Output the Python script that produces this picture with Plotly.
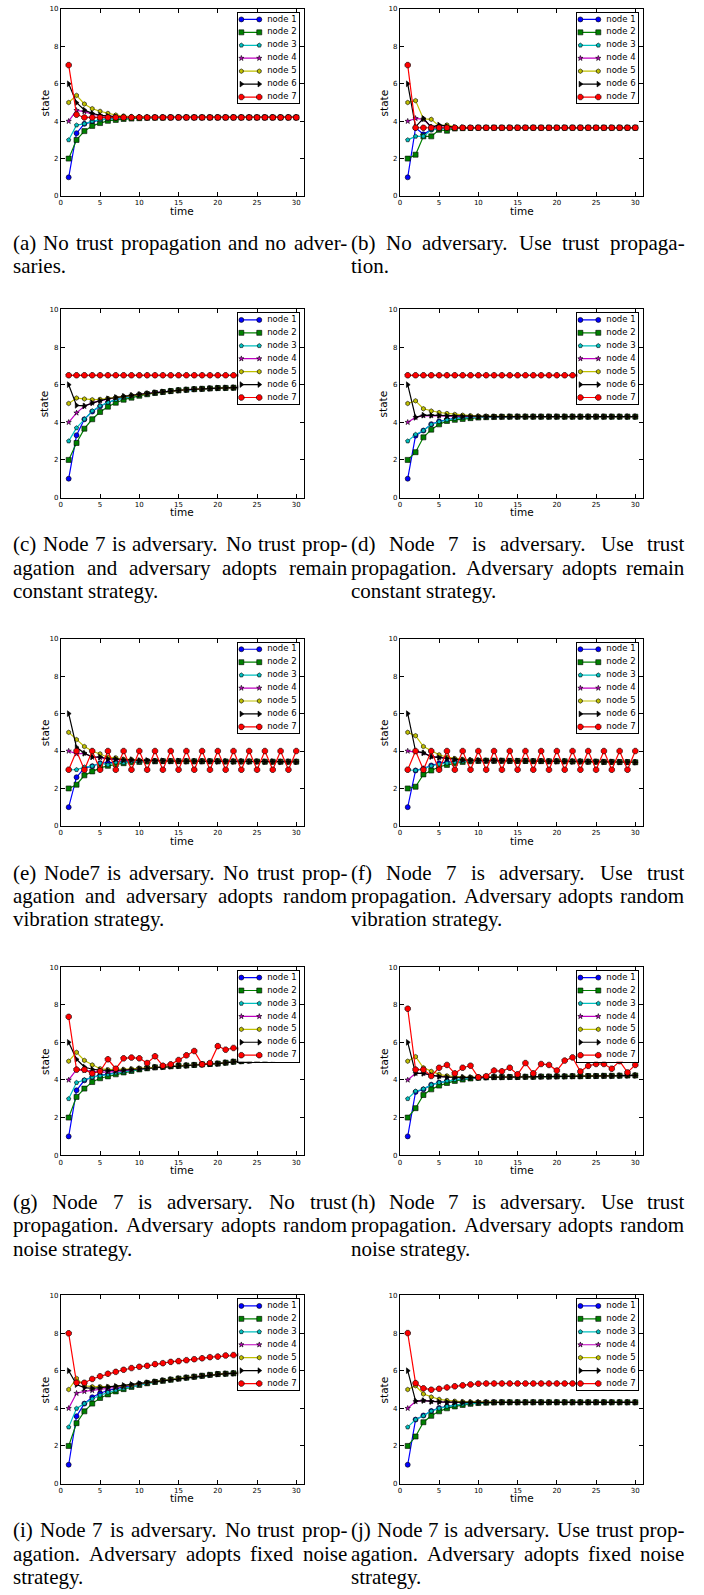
import plotly.graph_objects as go

# ---------------- data ----------------
time = list(range(1, 31))
node_names = ["node 1", "node 2", "node 3", "node 4", "node 5", "node 6", "node 7"]
x_tick_vals = [0, 5, 10, 15, 20, 25, 30]
y_tick_vals = [0, 2, 4, 6, 8, 10]


def series(head, tail):
    return head + tail[len(head):]


# (a) no trust propagation, no adversary
a_tail = [4.20, 4.20, 4.20, 4.20, 4.20, 4.20, 4.20, 4.20, 4.20, 4.20,
          4.20, 4.20, 4.20, 4.20, 4.20, 4.20, 4.20, 4.20, 4.20, 4.20,
          4.20, 4.20, 4.20, 4.20, 4.20, 4.20, 4.20, 4.20, 4.20, 4.20]
a1 = series([1.00, 3.36, 3.86, 3.98, 4.07, 4.12, 4.15, 4.17, 4.18, 4.19, 4.19], a_tail)
a2 = series([2.00, 3.00, 3.47, 3.75, 3.90, 4.02, 4.07, 4.12, 4.14, 4.16, 4.18, 4.19, 4.19], a_tail)
a3 = series([3.00, 3.79, 3.86, 4.00, 4.07, 4.12, 4.15, 4.17, 4.18, 4.19, 4.19], a_tail)
a4 = series([4.00, 4.58, 4.51, 4.37, 4.30, 4.26, 4.24, 4.22, 4.21, 4.21], a_tail)
a5 = series([5.00, 5.38, 4.92, 4.67, 4.53, 4.42, 4.33, 4.28, 4.25, 4.23, 4.22, 4.21], a_tail)
a6 = series([6.00, 4.99, 4.60, 4.42, 4.32, 4.27, 4.24, 4.22, 4.21, 4.21], a_tail)
a7 = series([7.00, 4.35], a_tail)

# (b) no adversary, trust propagation
b_tail = [3.65, 3.65, 3.65, 3.65, 3.65, 3.65, 3.65, 3.65, 3.65, 3.65,
          3.65, 3.65, 3.65, 3.65, 3.65, 3.65, 3.65, 3.65, 3.65, 3.65,
          3.65, 3.65, 3.65, 3.65, 3.65, 3.65, 3.65, 3.65, 3.65, 3.65]
b1 = series([1.00, 3.65, 3.30, 3.55, 3.60, 3.62, 3.64], b_tail)
b2 = series([2.00, 2.21, 3.19, 3.19, 3.54, 3.49, 3.61, 3.63, 3.64], b_tail)
b3 = series([3.00, 3.19, 3.19, 3.54, 3.58, 3.62, 3.64], b_tail)
b4 = series([4.00, 4.15, 4.10, 3.70, 3.70, 3.66], b_tail)
b5 = series([5.00, 5.10, 4.12, 4.10, 3.75, 3.80, 3.68, 3.66], b_tail)
b6 = series([6.00, 3.70, 4.15, 3.68, 3.80, 3.72, 3.67, 3.66], b_tail)
b7 = series([7.00, 3.65], b_tail)

# (c) adversary constant, no trust propagation
c_tail = [1.00, 3.31, 4.16, 4.57, 4.85, 5.05, 5.20, 5.31, 5.39, 5.46,
          5.52, 5.57, 5.62, 5.66, 5.70, 5.73, 5.76, 5.78, 5.80, 5.82,
          5.83, 5.84, 5.86, 5.87, 5.88, 5.89, 5.90, 5.91, 5.92, 5.93]
c1 = series([1.00], c_tail)
c2 = series([2.00, 2.90, 3.66, 4.16, 4.55, 4.83, 5.04, 5.20, 5.31, 5.41, 5.49, 5.56, 5.61], c_tail)
c3 = series([3.00, 3.70, 4.16, 4.60, 4.87, 5.06, 5.20, 5.31, 5.39], c_tail)
c4 = series([4.00, 4.50, 4.85, 5.03, 5.15, 5.24, 5.31, 5.37, 5.43, 5.48, 5.53, 5.58], c_tail)
c5 = series([5.00, 5.29, 5.24, 5.20, 5.22, 5.27, 5.32, 5.37, 5.43, 5.48, 5.53, 5.58], c_tail)
c6 = series([6.00, 4.90, 4.87, 5.03, 5.15, 5.25, 5.32, 5.38, 5.43, 5.48, 5.53, 5.58], c_tail)
c7 = [6.50, 6.50, 6.50, 6.50, 6.50, 6.50, 6.50, 6.50, 6.50, 6.50,
      6.50, 6.50, 6.50, 6.50, 6.50, 6.50, 6.50, 6.50, 6.50, 6.50,
      6.50, 6.50, 6.50, 6.50, 6.50, 6.50, 6.50, 6.50, 6.50, 6.50]

# (d) adversary constant, trust propagation
d_tail = [4.30, 4.30, 4.30, 4.30, 4.30, 4.30, 4.30, 4.30, 4.30, 4.30,
          4.30, 4.30, 4.30, 4.30, 4.30, 4.30, 4.30, 4.30, 4.30, 4.30,
          4.30, 4.30, 4.30, 4.30, 4.30, 4.30, 4.30, 4.30, 4.30, 4.30]
d1 = series([1.00, 3.29, 3.56, 3.90, 4.05, 4.15, 4.21, 4.25, 4.27, 4.28, 4.29], d_tail)
d2 = series([2.00, 2.41, 3.20, 3.61, 3.89, 4.07, 4.13, 4.18, 4.22, 4.25, 4.27, 4.28, 4.29], d_tail)
d3 = series([3.00, 3.35, 3.56, 3.88, 4.03, 4.13, 4.20, 4.24, 4.27, 4.28, 4.29], d_tail)
d4 = series([4.00, 4.26, 4.35, 4.35, 4.35, 4.33, 4.32, 4.31], d_tail)
d5 = series([5.00, 5.14, 4.72, 4.60, 4.52, 4.47, 4.42, 4.38, 4.35, 4.33, 4.32, 4.31], d_tail)
d6 = series([6.00, 4.26, 4.38, 4.37, 4.36, 4.34, 4.32, 4.31], d_tail)
d7 = [6.50, 6.50, 6.50, 6.50, 6.50, 6.50, 6.50, 6.50, 6.50, 6.50,
      6.50, 6.50, 6.50, 6.50, 6.50, 6.50, 6.50, 6.50, 6.50, 6.50,
      6.50, 6.50, 6.50, 6.50, 6.50, 6.50, 6.50, 6.50, 6.50, 6.50]

# (e) random vibration, no trust propagation
e_tail = [3.46, 3.46, 3.46, 3.46, 3.46, 3.46, 3.46, 3.46, 3.46, 3.46,
          3.46, 3.46, 3.46, 3.46, 3.46, 3.45, 3.45, 3.45, 3.45, 3.45,
          3.44, 3.44, 3.44, 3.44, 3.44, 3.43, 3.43, 3.43, 3.43, 3.43]
e1 = series([1.00, 2.60, 3.09, 3.19, 3.35, 3.36, 3.40, 3.42, 3.44, 3.45], e_tail)
e2 = series([2.00, 2.20, 2.70, 2.91, 3.10, 3.21, 3.30, 3.35, 3.40, 3.42, 3.44, 3.45], e_tail)
e3 = series([3.00, 3.00, 3.14, 3.19, 3.35, 3.26, 3.40, 3.37, 3.45, 3.42, 3.47, 3.44, 3.47, 3.45], e_tail)
e4 = series([4.00, 3.85, 3.88, 3.67, 3.65, 3.56, 3.55, 3.50, 3.50, 3.48, 3.47, 3.47], e_tail)
e5 = series([5.00, 4.61, 4.24, 4.00, 3.85, 3.67, 3.64, 3.56, 3.55, 3.50, 3.49, 3.47, 3.47], e_tail)
e6 = [6.00, 4.20, 3.88, 3.69, 3.68, 3.58, 3.58, 3.53, 3.54, 3.49,
      3.50, 3.47, 3.48, 3.46, 3.47, 3.45, 3.46, 3.45, 3.46, 3.44,
      3.45, 3.44, 3.45, 3.43, 3.44, 3.43, 3.44, 3.42, 3.43, 3.42]
e7 = [3.0, 4.0, 3.0, 4.0, 3.0, 4.0, 3.0, 4.0, 3.0, 4.0,
      3.0, 4.0, 3.0, 4.0, 3.0, 4.0, 3.0, 4.0, 3.0, 4.0,
      3.0, 4.0, 3.0, 4.0, 3.0, 4.0, 3.0, 4.0, 3.0, 4.0]

# (f) random vibration, trust propagation
f_tail = [1.00, 2.96, 3.07, 3.23, 3.35, 3.40, 3.44, 3.46, 3.47, 3.48,
          3.48, 3.48, 3.48, 3.47, 3.47, 3.47, 3.46, 3.46, 3.45, 3.45,
          3.45, 3.44, 3.44, 3.43, 3.43, 3.42, 3.42, 3.41, 3.41, 3.40]
f1 = series([1.00], f_tail)
f2 = series([2.00, 2.09, 2.75, 2.96, 3.16, 3.26, 3.35, 3.42, 3.45, 3.47], f_tail)
f3 = series([3.00, 2.96, 3.05, 3.20, 3.30, 3.35, 3.41, 3.45, 3.47], f_tail)
f4 = series([4.00, 3.95, 3.90, 3.70, 3.66, 3.60, 3.55, 3.52, 3.50, 3.49], f_tail)
f5 = series([5.00, 4.82, 4.24, 4.00, 3.80, 3.67, 3.60, 3.55, 3.52, 3.50, 3.49], f_tail)
f6 = series([6.00, 4.00, 3.90, 3.70, 3.65, 3.60, 3.56, 3.53, 3.51, 3.50, 3.49], f_tail)
f7 = [3.0, 4.0, 3.0, 4.0, 3.0, 4.0, 3.0, 4.0, 3.0, 4.0,
      3.0, 4.0, 3.0, 4.0, 3.0, 4.0, 3.0, 4.0, 3.0, 4.0,
      3.0, 4.0, 3.0, 4.0, 3.0, 4.0, 3.0, 4.0, 3.0, 4.0]

# (g) random noise, no trust propagation
g_tail = [1.00, 3.45, 3.98, 4.16, 4.25, 4.32, 4.38, 4.44, 4.51, 4.58,
          4.63, 4.67, 4.70, 4.73, 4.75, 4.77, 4.80, 4.83, 4.85, 4.87,
          4.92, 4.97, 5.00, 5.03, 5.08, 5.12, 5.15, 5.20, 5.23, 5.27]
g1 = series([1.00], g_tail)
g2 = series([2.00, 3.10, 3.54, 3.89, 4.09, 4.19, 4.30, 4.40, 4.48, 4.56, 4.62], g_tail)
g3 = series([3.00, 3.86, 4.00, 4.15, 4.22, 4.30, 4.37, 4.43, 4.50, 4.57], g_tail)
g4 = series([4.00, 4.55, 4.51, 4.45, 4.42, 4.42, 4.45, 4.50, 4.55, 4.60, 4.64], g_tail)
g5 = series([5.00, 5.47, 5.04, 4.80, 4.60, 4.55, 4.55, 4.56, 4.59, 4.62, 4.65, 4.68], g_tail)
g6 = series([6.00, 5.10, 4.69, 4.57, 4.52, 4.50, 4.51, 4.53, 4.56, 4.60, 4.64, 4.68], g_tail)
g7 = [7.36, 4.55, 4.55, 4.35, 4.46, 5.10, 4.60, 5.15, 5.19, 5.15,
      4.90, 5.26, 4.76, 4.83, 5.06, 5.31, 5.54, 4.83, 4.90, 5.80,
      5.61, 5.70, 5.65, 5.40, 5.90, 5.60, 5.50, 6.00, 5.70, 5.80]

# (h) random noise, trust propagation
h_tail = [1.00, 3.36, 3.50, 3.75, 3.86, 3.95, 4.01, 4.06, 4.10, 4.13,
          4.14, 4.15, 4.15, 4.16, 4.16, 4.17, 4.17, 4.18, 4.18, 4.19,
          4.19, 4.20, 4.20, 4.21, 4.21, 4.22, 4.22, 4.23, 4.24, 4.24]
h1 = series([1.00], h_tail)
h2 = series([2.00, 2.50, 3.20, 3.50, 3.70, 3.84, 3.95, 4.02, 4.08, 4.12], h_tail)
h3 = series([3.00, 3.40, 3.52, 3.74, 3.86, 3.95, 4.01, 4.06, 4.10], h_tail)
h4 = series([4.00, 4.35, 4.35, 4.25, 4.20, 4.17, 4.15, 4.14, 4.13, 4.13], h_tail)
h5 = series([5.00, 5.24, 4.65, 4.46, 4.30, 4.22, 4.18, 4.15, 4.14, 4.13], h_tail)
h6 = series([6.00, 4.35, 4.35, 4.25, 4.18, 4.15, 4.14, 4.14, 4.13, 4.13], h_tail)
h7 = [7.79, 4.55, 4.55, 4.21, 4.65, 4.80, 4.35, 4.65, 4.76, 4.14,
      4.20, 4.50, 4.46, 4.65, 4.30, 4.90, 4.35, 4.85, 4.80, 4.50,
      5.03, 5.20, 4.45, 4.75, 4.85, 4.85, 4.60, 5.00, 4.40, 4.80]

# (i) fixed noise, no trust propagation
i_tail = [1.00, 3.58, 4.25, 4.59, 4.80, 4.95, 5.05, 5.14, 5.22, 5.30,
          5.36, 5.42, 5.48, 5.53, 5.58, 5.63, 5.68, 5.73, 5.78, 5.82,
          5.84, 5.86, 5.88, 5.90, 5.92, 5.94, 5.96, 5.98, 6.00, 6.02]
i1 = series([1.00], i_tail)
i2 = series([2.00, 3.21, 3.84, 4.25, 4.55, 4.74, 4.90, 5.02, 5.14, 5.24, 5.33, 5.40, 5.46, 5.52], i_tail)
i3 = series([3.00, 3.99, 4.25, 4.50, 4.70, 4.85, 4.96, 5.06, 5.15, 5.25, 5.34, 5.41], i_tail)
i4 = series([4.00, 4.80, 4.90, 4.95, 5.00, 5.05, 5.10, 5.15, 5.21, 5.28, 5.35, 5.41], i_tail)
i5 = series([5.00, 5.59, 5.20, 5.15, 5.15, 5.15, 5.17, 5.20, 5.24, 5.30], i_tail)
i6 = series([6.00, 5.26, 5.10, 5.06, 5.10, 5.13, 5.17, 5.22, 5.27, 5.32, 5.37, 5.42], i_tail)
i7 = [7.99, 5.36, 5.36, 5.56, 5.70, 5.84, 5.94, 6.05, 6.14, 6.21,
      6.26, 6.35, 6.40, 6.47, 6.51, 6.56, 6.61, 6.66, 6.72, 6.75,
      6.81, 6.83, 6.86, 6.89, 6.92, 6.94, 6.96, 6.98, 7.00, 7.02]

# (j) fixed noise, trust propagation
j_tail = [4.32, 4.32, 4.32, 4.32, 4.32, 4.32, 4.32, 4.32, 4.32, 4.32,
          4.32, 4.32, 4.32, 4.32, 4.32, 4.32, 4.32, 4.32, 4.32, 4.32,
          4.32, 4.32, 4.32, 4.32, 4.32, 4.32, 4.32, 4.32, 4.32, 4.32]
j1 = series([1.00, 3.40, 3.62, 3.86, 4.02, 4.10, 4.17, 4.22, 4.26, 4.29, 4.31], j_tail)
j2 = series([2.00, 2.50, 3.26, 3.60, 3.84, 4.00, 4.10, 4.18, 4.24, 4.28, 4.30, 4.31], j_tail)
j3 = series([3.00, 3.40, 3.60, 3.85, 4.00, 4.10, 4.17, 4.22, 4.26, 4.29, 4.31], j_tail)
j4 = series([4.00, 4.36, 4.41, 4.36, 4.34, 4.33], j_tail)
j5 = series([5.00, 5.20, 4.76, 4.60, 4.48, 4.42, 4.38, 4.35, 4.34, 4.33], j_tail)
j6 = series([6.00, 4.39, 4.41, 4.36, 4.34, 4.33], j_tail)
j7 = [8.00, 5.34, 5.06, 4.99, 5.04, 5.11, 5.17, 5.22, 5.27, 5.31,
      5.32, 5.32, 5.32, 5.32, 5.32, 5.32, 5.32, 5.32, 5.32, 5.32,
      5.32, 5.32, 5.32, 5.32, 5.32, 5.32, 5.32, 5.32, 5.32, 5.32]

panels = [
    [a1, a2, a3, a4, a5, a6, a7],
    [b1, b2, b3, b4, b5, b6, b7],
    [c1, c2, c3, c4, c5, c6, c7],
    [d1, d2, d3, d4, d5, d6, d7],
    [e1, e2, e3, e4, e5, e6, e7],
    [f1, f2, f3, f4, f5, f6, f7],
    [g1, g2, g3, g4, g5, g6, g7],
    [h1, h2, h3, h4, h5, h6, h7],
    [i1, i2, i3, i4, i5, i6, i7],
    [j1, j2, j3, j4, j5, j6, j7],
]

captions = [
    ["(a) No trust propagation and no adver-", "saries."],
    ["(b) No adversary. Use trust propaga-", "tion."],
    ["(c) Node 7 is adversary. No trust prop-", "agation and adversary adopts remain", "constant strategy."],
    ["(d) Node 7 is adversary. Use trust", "propagation. Adversary adopts remain", "constant strategy."],
    ["(e) Node7 is adversary. No trust prop-", "agation and adversary adopts random", "vibration strategy."],
    ["(f) Node 7 is adversary. Use trust", "propagation. Adversary adopts random", "vibration strategy."],
    ["(g) Node 7 is adversary. No trust", "propagation. Adversary adopts random", "noise strategy."],
    ["(h) Node 7 is adversary. Use trust", "propagation. Adversary adopts random", "noise strategy."],
    ["(i) Node 7 is adversary. No trust prop-", "agation. Adversary adopts fixed noise", "strategy."],
    ["(j) Node 7 is adversary. Use trust prop-", "agation. Adversary adopts fixed noise", "strategy."],
]

# ---------------- style ----------------
W, H = 704, 1595
col_x = [(59, 303), (399, 643)]
col_cap = [(11, 346), (350, 684)]
row_y = [(5, 193), (307, 496), (638, 826), (968, 1157), (1298, 1487)]

colors = ["#0000ff", "#008000", "#00bfbf", "#bf00bf", "#bfbf00", "#000000", "#ff0000"]
symbols = ["circle", "square", "pentagon", "star", "hexagon", "triangle-right", "octagon"]
msizes = [5, 5, 4.5, 4, 4.5, 5, 6]
SANS = "DejaVu Sans"
SERIF = "Liberation Serif, Times New Roman, Times, serif"
CAP_FS = 21

TIMES_W = {' ': 250, '(': 333, ')': 333, '.': 250, '-': 333, '7': 500,
           'a': 444, 'b': 500, 'c': 444, 'd': 500, 'e': 444, 'f': 333, 'g': 500,
           'h': 500, 'i': 278, 'j': 278, 'k': 500, 'l': 278, 'm': 778, 'n': 500,
           'o': 500, 'p': 500, 'q': 500, 'r': 333, 's': 389, 't': 278, 'u': 500,
           'v': 500, 'w': 722, 'x': 500, 'y': 500, 'z': 444,
           'A': 722, 'N': 722, 'U': 722}


def tw(s):
    return sum(TIMES_W.get(ch, 500) for ch in s) * CAP_FS / 1000.0


fig = go.Figure()
annotations = []
layout_axes = {}

for k, data in enumerate(panels):
    r, c = divmod(k, 2)
    n = k + 1
    nl = k + 11
    xl, xr = col_x[c]
    yt, yb = row_y[r]
    sfx = "" if n == 1 else str(n)

    for idx in range(7):
        fig.add_trace(go.Scatter(
            x=time, y=data[idx], mode="lines+markers", name=node_names[idx],
            line=dict(color=colors[idx], width=1.2),
            marker=dict(symbol=symbols[idx], size=msizes[idx], color=colors[idx],
                        line=dict(color="black", width=0.6)),
            xaxis="x" + sfx, yaxis="y" + sfx, showlegend=False, hoverinfo="skip"))

    common = dict(showline=True, linecolor="black", linewidth=1, mirror="ticks",
                  ticks="inside", ticklen=4, tickwidth=1, tickcolor="black",
                  showgrid=False, zeroline=False, fixedrange=True,
                  tickfont=dict(family=SANS, size=7, color="black"))
    layout_axes["xaxis" + sfx] = dict(common, domain=[xl / W, xr / W], range=[0, 31],
                                      tickmode="array", tickvals=x_tick_vals,
                                      ticktext=[str(v) for v in x_tick_vals],
                                      anchor="y" + sfx)
    layout_axes["yaxis" + sfx] = dict(common, domain=[1 - yb / H, 1 - yt / H], range=[0, 10],
                                      tickmode="array", tickvals=y_tick_vals,
                                      ticktext=[str(v) for v in y_tick_vals],
                                      anchor="x" + sfx)

    # legend drawn as its own small boxed subplot
    lx0, lx1 = xr - 66, xr - 5
    ly0, ly1 = yt + 4, yt + 95
    box = dict(showline=True, linecolor="black", linewidth=1, mirror=True, ticks="",
               showticklabels=False, showgrid=False, zeroline=False, fixedrange=True)
    layout_axes["xaxis%d" % nl] = dict(box, domain=[lx0 / W, lx1 / W], range=[0, 61],
                                       anchor="y%d" % nl)
    layout_axes["yaxis%d" % nl] = dict(box, domain=[1 - ly1 / H, 1 - ly0 / H], range=[7.5, 0.5],
                                       anchor="x%d" % nl)
    for idx in range(7):
        fig.add_trace(go.Scatter(
            x=[3, 21], y=[idx + 1, idx + 1], mode="lines+markers",
            line=dict(color=colors[idx], width=1.2),
            marker=dict(symbol=symbols[idx], size=msizes[idx], color=colors[idx],
                        line=dict(color="black", width=0.6)),
            xaxis="x%d" % nl, yaxis="y%d" % nl, showlegend=False, hoverinfo="skip"))
    fig.add_trace(go.Scatter(
        x=[29] * 7, y=list(range(1, 8)), mode="text", text=node_names,
        textposition="middle right", textfont=dict(family=SANS, size=8.5, color="black"),
        xaxis="x%d" % nl, yaxis="y%d" % nl, showlegend=False, hoverinfo="skip"))

    # axis titles
    annotations.append(dict(text="time", x=(xl + xr) / 2 / W, y=1 - (yb + 15) / H,
                            xref="paper", yref="paper", showarrow=False,
                            xanchor="center", yanchor="middle",
                            font=dict(family=SANS, size=10.5, color="black")))
    annotations.append(dict(text="state", x=(xl - 16) / W, y=1 - (yt + yb) / 2 / H,
                            xref="paper", yref="paper", showarrow=False, textangle=-90,
                            xanchor="center", yanchor="middle",
                            font=dict(family=SANS, size=10.5, color="black")))

    # justified caption
    cx0, cx1 = col_cap[c]
    lines = captions[k]
    for li, line in enumerate(lines):
        words = line.split(" ")
        widths = [tw(w) for w in words]
        if li < len(lines) - 1 and len(words) > 1:
            gap = (cx1 - cx0 - sum(widths)) / (len(words) - 1)
        else:
            gap = tw(" ")
        cy = yb + 47 + li * 23.5
        xpos = cx0
        for w, wd in zip(words, widths):
            annotations.append(dict(text=w, x=(xpos - 2) / W, y=1 - cy / H,
                                    xref="paper", yref="paper", showarrow=False,
                                    xanchor="left", yanchor="middle",
                                    font=dict(family=SERIF, size=CAP_FS, color="black")))
            xpos += wd + gap

fig.update_layout(
    width=W, height=H, margin=dict(l=0, r=0, t=0, b=0),
    paper_bgcolor="white", plot_bgcolor="rgba(255,255,255,0.999)",
    showlegend=False, annotations=annotations, **layout_axes)

fig.write_html("out.html", config={"responsive": False, "displayModeBar": False},
               post_script="document.body.style.margin='0px';document.body.style.padding='0px';")
